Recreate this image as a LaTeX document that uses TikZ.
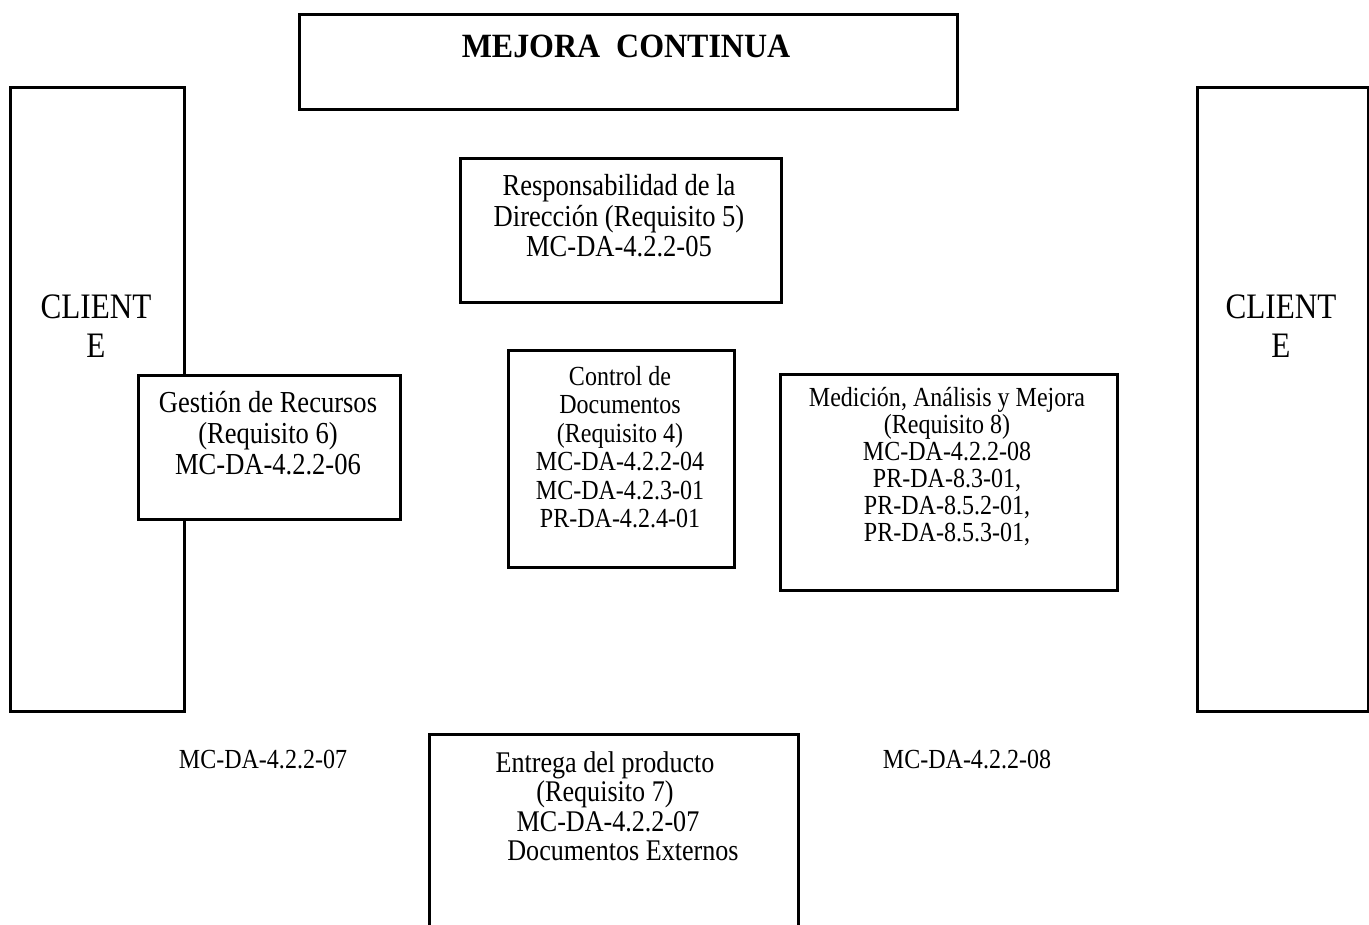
\documentclass[tikz,border=0pt]{standalone}
\usepackage{fontspec}
\setmainfont[FakeStretch=0.87]{Liberation Serif}
\newfontfamily\titlefont[FakeStretch=0.94]{Liberation Serif}
\begin{document}
\begin{tikzpicture}[x=1pt,y=-1pt,
  frame/.style={draw=black, line width=2.6pt, fill=white, inner sep=0pt, anchor=north west},
  txt/.style={align=center, inner sep=0pt}]
\useasboundingbox (0,0) rectangle (1369,925);

% title box
\node[frame, minimum width=658pt, minimum height=95pt] (mejora) at (298,13) {};
\node[txt, font=\titlefont\fontsize{34}{38}\selectfont\bfseries] (mejoratxt) at (626,46) {MEJORA~~CONTINUA};

% customer columns
\node[frame, minimum width=174pt, minimum height=624pt] (clienteL) at (9,86) {};
\node[txt, font=\fontsize{35.8}{39}\selectfont] (clienteLtxt) at (96,326) {CLIENT\\E};
\node[frame, minimum width=171pt, minimum height=624pt] (clienteR) at (1196,86) {};
\node[txt, font=\fontsize{35.8}{39}\selectfont] (clienteRtxt) at (1281,326) {CLIENT\\E};

% management responsibility
\node[frame, minimum width=321pt, minimum height=144pt] (resp) at (459,157) {};
\node[txt, font=\fontsize{30.5}{30.5}\selectfont] (resptxt) at (619,216)
  {Responsabilidad de la\\Dirección (Requisito 5)\\MC-DA-4.2.2-05};

% resource management
\node[frame, minimum width=262pt, minimum height=144pt] (gestion) at (137,374) {};
\node[txt, font=\fontsize{30.5}{31}\selectfont] (gestiontxt) at (268,433)
  {Gestión de Recursos\\(Requisito 6)\\MC-DA-4.2.2-06};

% document control
\node[frame, minimum width=226pt, minimum height=217pt] (control) at (507,349) {};
\node[txt, font=\fontsize{27.6}{28.5}\selectfont] (controltxt) at (620,447)
  {Control de\\Documentos\\(Requisito 4)\\MC-DA-4.2.2-04\\MC-DA-4.2.3-01\\PR-DA-4.2.4-01};

% measurement, analysis and improvement
\node[frame, minimum width=337pt, minimum height=216pt] (medicion) at (779,373) {};
\node[txt, font=\fontsize{27.6}{27}\selectfont] (mediciontxt) at (947,467)
  {Medición, Análisis y Mejora\\(Requisito 8)\\MC-DA-4.2.2-08\\PR-DA-8.3-01,\\PR-DA-8.5.2-01,\\PR-DA-8.5.3-01,};

% product delivery
\node[frame, minimum width=369pt, minimum height=220pt] (entrega) at (428,733) {};
\node[txt, font=\fontsize{30}{29.5}\selectfont] (entregatxt) at (605,806)
  {Entrega del producto\\(Requisito 7)\\\hspace*{6pt}MC-DA-4.2.2-07\\\hspace*{36pt}Documentos Externos};

% loose references
\node[txt, font=\fontsize{27.6}{28}\selectfont] (ref07) at (263,760) {MC-DA-4.2.2-07};
\node[txt, font=\fontsize{27.6}{28}\selectfont] (ref08) at (967,760) {MC-DA-4.2.2-08};
\end{tikzpicture}
\end{document}
